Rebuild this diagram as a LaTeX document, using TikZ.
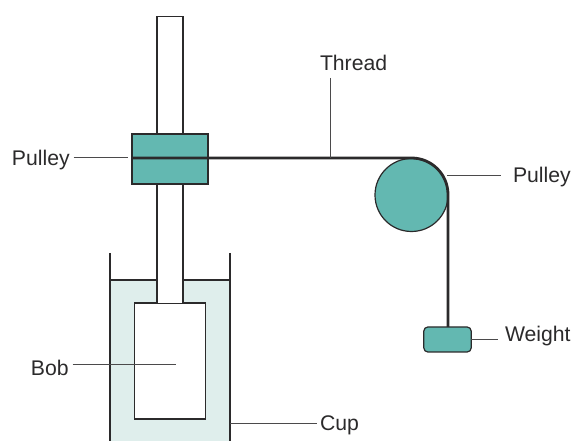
\documentclass[tikz,border=0pt]{standalone}
\usepackage{fontspec}
\setmainfont{Liberation Sans}
\usepackage{xcolor}
\usetikzlibrary{positioning,calc}
\definecolor{teal1}{HTML}{63B8B1}
\definecolor{cupfill}{HTML}{DFEEEC}
\definecolor{ink}{HTML}{2B2A2B}

\begin{document}
\begin{tikzpicture}[
    x=0.75pt, y=-0.75pt,
    part/.style={rectangle, draw=ink, line width=0.9pt, inner sep=0pt, outer sep=0pt},
    tealpart/.style={part, fill=teal1},
    lbl/.style={font=\fontsize{15.9pt}{18pt}\selectfont, text=ink, inner sep=0pt, outer sep=0pt},
    lead/.style={draw=ink!85, line width=0.75pt},
    wall/.style={draw=ink, line width=0.9pt},
    threadline/.style={draw=ink, line width=2.1pt},
]
\useasboundingbox (0,0) rectangle (571,441);

%% Cup
\node[rectangle, fill=cupfill, inner sep=0pt, outer sep=0pt,
      minimum width=90pt, minimum height=120.75pt] (cup) at (170,360.5) {};
\coordinate (cupTL) at (110,253);
\coordinate (cupTR) at (230,253);
\coordinate (cupBL) at (110,441);
\coordinate (cupBR) at (230,441);
\draw[wall] (cupTL) -- (cupBL);
\draw[wall] (cupTR) -- (cupBR);
\draw[wall] (cup.north west) -- (cup.north east);

%% Bob and shaft
\node[part, fill=white, minimum width=53.25pt, minimum height=87pt] (bob) at (170.25,361) {};
\node[part, fill=white, minimum width=19.5pt, minimum height=215.5pt] (shaft) at (170,159.8) {};
\node[tealpart, minimum width=57pt, minimum height=37.5pt] (block) at (170,159) {};

%% Pulley, weight
\node[tealpart, circle, minimum size=54.75pt] (wheel) at (411.5,195) {};
\node[tealpart, rounded corners=3pt, minimum width=35.5pt, minimum height=18.75pt] (weight) at (447.5,339.5) {};

%% Thread
\coordinate (threadstart) at (133,158);
\coordinate (threadtop) at (411.5,158);
\coordinate (threadend) at (448,327);
\draw[threadline] (threadstart) -- (threadtop)
    arc[start angle=-90, end angle=0, radius=36.5] -- (threadend);

%% Labels
\node[lbl, anchor=west] (lblblock) at (12,160) {Pulley};
\node[lbl, anchor=west] (lblthread) at (320,63) {Thread};
\node[lbl, anchor=west] (lblwheel) at (513,177.5) {Pulley};
\node[lbl, anchor=west] (lblweight) at (505,336.5) {Weight};
\node[lbl, anchor=west] (lblbob) at (31,367.5) {Bob};
\node[lbl, anchor=west] (lblcup) at (320,425.5) {Cup};

%% Leaders
\coordinate (bobend) at (176,365);
\coordinate (blockend) at (128,158);
\coordinate (threadpt) at (330,158);
\coordinate (wheelpt) at (447,175.5);
\coordinate (cuppt) at (230,423);
\draw[lead] ($(blockend -| lblblock.east)+(4,0)$) -- (blockend);
\draw[lead] ($(lblthread.south -| threadpt)+(0,7)$) -- (threadpt);
\draw[lead] (wheelpt) -- ($(wheelpt -| lblwheel.west)+(-12,0)$);
\draw[lead] (weight.east) -- ($(weight.east -| lblweight.west)+(-7,0)$);
\draw[lead] ($(bobend -| lblbob.east)+(4,0)$) -- (bobend);
\draw[lead] (cuppt) -- ($(cuppt -| lblcup.west)+(-3,0)$);

\end{tikzpicture}
\end{document}
